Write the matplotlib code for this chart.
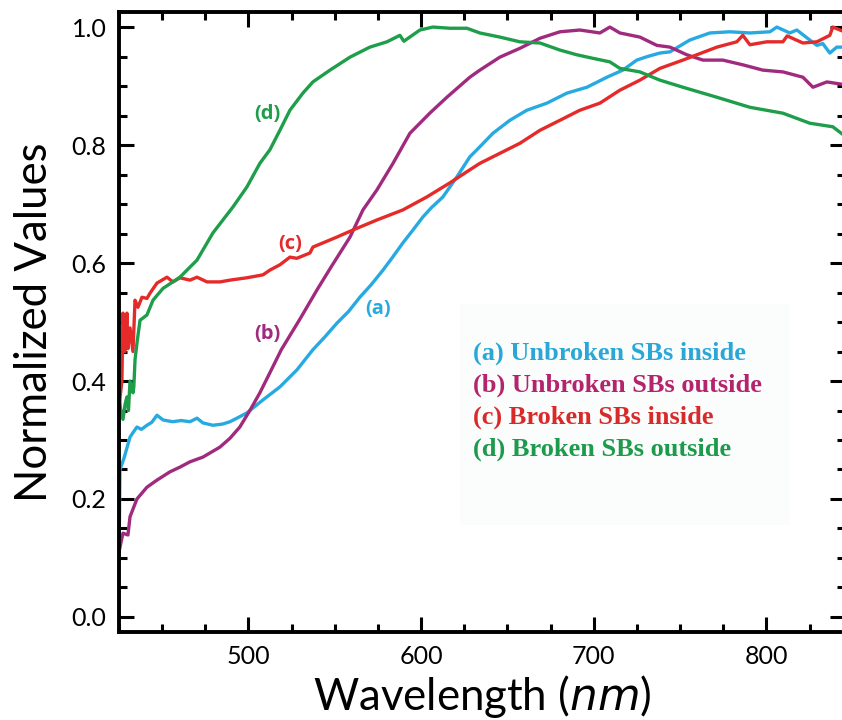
import numpy as np
import matplotlib.pyplot as plt
from matplotlib.ticker import MultipleLocator
from matplotlib.patches import Rectangle

# spectra (wavelength in nm, normalized value)
wl_a = [425.0, 425.6, 428.0, 431.4, 433.0, 435.4, 438.0, 441.2, 444.0, 447.0,
        450.5, 456.0, 461.0, 466.1, 470.2, 473.6, 479.4, 485.0, 489.3, 494.0,
        499.1, 508.4, 518.2, 528.1, 537.3, 544.0, 551.2, 558.0, 564.5, 571.0,
        577.9, 583.0, 589.4, 595.0, 601.0, 606.0, 612.6, 620.7, 628.2, 632.3,
        641.6, 651.4, 661.2, 672.8, 684.4, 696.0, 707.6, 716.8, 724.9, 731.0,
        738.3, 744.1, 755.6, 767.2, 778.8, 790.4, 802.0, 806.0, 813.5, 817.6,
        825.1, 829.2, 832.6, 836.7, 840.7, 846.0]
val_a = [0.097, 0.250, 0.270, 0.305, 0.312, 0.322, 0.318, 0.325, 0.330, 0.342,
         0.334, 0.331, 0.333, 0.331, 0.337, 0.329, 0.325, 0.327, 0.331, 0.338,
         0.346, 0.368, 0.390, 0.419, 0.453, 0.474, 0.498, 0.518, 0.542, 0.563,
         0.588, 0.608, 0.634, 0.655, 0.678, 0.694, 0.712, 0.746, 0.780, 0.792,
         0.820, 0.842, 0.859, 0.871, 0.888, 0.898, 0.915, 0.927, 0.944, 0.950,
         0.956, 0.958, 0.978, 0.990, 0.992, 0.990, 0.992, 1.000, 0.990, 0.995,
         0.978, 0.969, 0.972, 0.956, 0.966, 0.966]

wl_b = [425.0, 427.3, 430.2, 431.4, 435.4, 441.2, 447.0, 454.5, 460.3, 466.1,
        473.6, 483.5, 489.3, 495.0, 501.0, 506.6, 512.4, 519.0, 529.8, 540.0,
        548.0, 558.8, 566.3, 574.4, 583.7, 593.5, 605.0, 614.9, 628.2, 634.0,
        645.6, 657.2, 668.8, 680.4, 691.9, 703.5, 709.3, 715.1, 726.7, 736.5,
        744.1, 753.9, 763.2, 774.7, 786.3, 797.9, 809.5, 821.1, 826.9, 835.0,
        846.0]
val_b = [0.110, 0.142, 0.139, 0.170, 0.200, 0.220, 0.232, 0.246, 0.254, 0.263,
         0.271, 0.288, 0.303, 0.322, 0.351, 0.380, 0.414, 0.453, 0.505, 0.556,
         0.594, 0.644, 0.690, 0.724, 0.769, 0.820, 0.854, 0.881, 0.915, 0.927,
         0.949, 0.964, 0.981, 0.992, 0.995, 0.990, 1.000, 0.990, 0.983, 0.969,
         0.966, 0.953, 0.944, 0.944, 0.936, 0.927, 0.924, 0.915, 0.898, 0.907,
         0.902]

wl_c = [425.0, 426.7, 427.3, 428.5, 429.6, 430.2, 431.4, 433.1, 434.3, 436.0,
        438.3, 441.2, 443.0, 447.0, 452.8, 456.3, 460.3, 466.1, 470.2, 476.0,
        483.5, 489.3, 499.1, 508.4, 512.4, 518.2, 524.0, 528.0, 535.6, 537.3,
        551.2, 560.5, 574.4, 589.4, 603.3, 616.7, 628.2, 634.0, 645.6, 657.2,
        668.8, 680.4, 691.9, 703.5, 715.1, 726.7, 738.3, 751.6, 771.3, 782.8,
        786.3, 790.4, 800.2, 809.5, 812.0, 821.1, 829.2, 836.7, 838.4, 846.0]
val_c = [0.356, 0.400, 0.515, 0.450, 0.515, 0.455, 0.490, 0.450, 0.537, 0.525,
         0.542, 0.540, 0.549, 0.566, 0.576, 0.568, 0.575, 0.571, 0.576, 0.568,
         0.568, 0.571, 0.575, 0.580, 0.588, 0.597, 0.610, 0.608, 0.617, 0.627,
         0.644, 0.656, 0.673, 0.690, 0.712, 0.736, 0.758, 0.769, 0.786, 0.803,
         0.825, 0.842, 0.859, 0.871, 0.893, 0.910, 0.930, 0.944, 0.966, 0.975,
         0.986, 0.970, 0.975, 0.975, 0.985, 0.973, 0.975, 0.986, 1.000, 0.991]

wl_d = [425.0, 426.0, 427.3, 428.5, 429.6, 430.5, 431.4, 433.1, 433.6, 434.3,
        435.4, 437.2, 441.2, 444.7, 450.5, 460.3, 470.2, 473.6, 479.4, 491.0,
        499.1, 506.6, 512.4, 518.2, 524.0, 531.5, 537.3, 547.2, 558.8, 570.3,
        580.2, 587.7, 590.0, 599.3, 606.8, 616.7, 626.5, 634.0, 645.6, 657.2,
        668.8, 680.4, 690.2, 699.5, 709.3, 715.1, 726.7, 738.3, 751.6, 771.3,
        790.4, 809.5, 825.1, 838.4, 846.0]
val_d = [0.380, 0.350, 0.335, 0.360, 0.373, 0.350, 0.400, 0.380, 0.390, 0.436,
         0.464, 0.503, 0.512, 0.537, 0.557, 0.576, 0.605, 0.622, 0.651, 0.695,
         0.729, 0.769, 0.792, 0.825, 0.859, 0.888, 0.907, 0.927, 0.949, 0.966,
         0.975, 0.986, 0.976, 0.995, 1.000, 0.998, 0.998, 0.990, 0.983, 0.975,
         0.973, 0.961, 0.953, 0.947, 0.941, 0.930, 0.924, 0.910, 0.898, 0.881,
         0.864, 0.854, 0.837, 0.831, 0.814]

line_cols = ['#27AAE1', '#A02B7E', '#E52A2A', '#1E9E4A']
legend_txt = ['(a) Unbroken SBs inside', '(b) Unbroken SBs outside',
              '(c) Broken SBs inside', '(d) Broken SBs outside']
legend_cols = ['#2AA7D6', '#B4246C', '#D92A2A', '#1E9A4C']

# curve tags (position in data coords)
tag_txt = ['(a)', '(b)', '(c)', '(d)']
tag_x = [575, 511, 524, 511]
tag_y = [0.522, 0.48, 0.632, 0.853]

sans = 'Lato'

fig = plt.figure(figsize=(8.42, 7.2), dpi=100)
ax = fig.add_axes([0.1413, 0.1222, 0.8623, 0.8611])

for wl, vv, col in zip([wl_a, wl_b, wl_c, wl_d], [val_a, val_b, val_c, val_d], line_cols):
    ax.plot(wl, vv, color=col, lw=2.4, solid_joinstyle='round')

ax.set_xlim(425, 845.5)
ax.set_ylim(-0.0255, 1.0255)
ax.xaxis.set_major_locator(MultipleLocator(100))
ax.xaxis.set_minor_locator(MultipleLocator(25))
ax.yaxis.set_major_locator(MultipleLocator(0.2))
ax.yaxis.set_minor_locator(MultipleLocator(0.05))
ax.yaxis.set_major_formatter(plt.FormatStrFormatter('%.1f'))

ax.tick_params(which='both', direction='in', top=True, right=True, width=2.2)
ax.tick_params(which='major', length=11, pad=9, labelsize=18)
ax.tick_params(which='minor', length=5.5)
for s in ax.spines.values():
    s.set_linewidth(2.8)
for lab in ax.get_xticklabels() + ax.get_yticklabels():
    lab.set_fontfamily(sans)

ax.set_xlabel('Wavelength ($\\mathit{nm}$)', fontsize=31.5, family=sans, labelpad=4)
ax.set_ylabel('Normalized Values', fontsize=31.5, family=sans, labelpad=12)

# very faint box behind the legend text
ax.add_patch(Rectangle((622.5, 0.156), 191, 0.374,
                       facecolor='#fbfcfc', edgecolor='none', zorder=0))

for i in range(4):
    fig.text(473 / 842, 1 - (353 + 32 * i) / 720, legend_txt[i], color=legend_cols[i],
             fontsize=19, fontweight='bold', family='Liberation Serif', va='center')

for t, x, y, col in zip(tag_txt, tag_x, tag_y, line_cols):
    ax.text(x, y, t, color=col, fontsize=14.5, fontweight='bold', family='Open Sans',
            ha='center', va='center')

fig.savefig('out.png', dpi=100)
